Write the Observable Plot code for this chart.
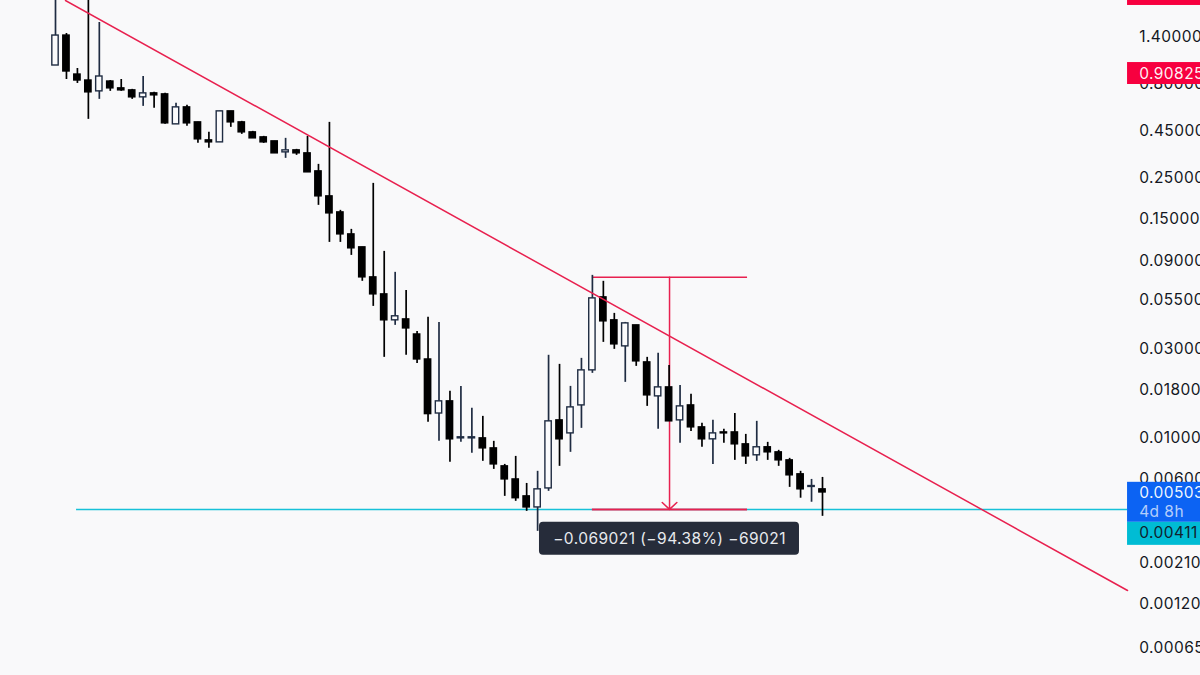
<!DOCTYPE html>
<html>
<head>
<meta charset="utf-8">
<script src="https://cdn.jsdelivr.net/npm/d3@7"></script>
<script src="https://cdn.jsdelivr.net/npm/@observablehq/plot@0.6"></script>
<style>
html,body{margin:0;padding:0;background:#f9f9fa;overflow:hidden}
svg{display:block}
svg text{letter-spacing:.45px}
</style>
</head>
<body>
<div id="chart"></div>
<script>
// Candles, one entry per period
const opens = [1.003,1.433,.901,.839,.7347,.829,.7626,.7439,.6821,.7167,.7079,.4879,.6024,.5001,.4,.3902,.5733,.5001,.4418,.4152,.3951,.3447,.3534,.3405,.2723,.1997,.1637,.1246,.1061,.0731,.0592,.0429,.0434,.036,.0264,.0135,.0157,.00992,.00992,.00992,.00876,.00701,.00596,.00483,.00421,.00533,.0124,.01055,.01493,.02306,.05704,.0429,.03105,.0403,.02546,.0167,.01867,.0124,.01493,.01137,.0098,.01068,.01068,.00921,.00804,.00888,.00834,.00755,.00635,.00543,.00527];
const highs = [2.31,1.468,.968,2.31,1.674,.839,.849,.7532,.88,.7257,.7167,.6331,.6176,.5001,.4418,.5733,.5733,.5064,.4473,.4204,.3951,.4101,.3578,.4204,.297,.5001,.1679,.1326,.1061,.2346,.1009,.0778,.0622,.0374,.0445,.0418,.01777,.0189,.01439,.01303,.00956,.00718,.00793,.00567,.00659,.0278,.02484,.0189,.02676,.07494,.0696,.04676,.0418,.0403,.0271,.02847,.02453,.01914,.01712,.01195,.0124,.01109,.0135,.01042,.01225,.00944,.00855,.00774,.00659,.00596,.00611];
const lows = [1.003,.849,.81,.5191,.6653,.7347,.7347,.6653,.6099,.595,.4879,.4879,.4759,.3854,.3622,.3902,.47,.431,.4101,.3854,.3405,.32,.3321,.269,.1786,.1128,.1128,.096,.0696,.051,.0271,.0403,.0278,.0251,.0121,.00956,.00737,.00944,.00824,.00746,.00675,.00483,.00454,.00401,.00313,.00514,.00701,.00834,.01123,.02222,.03263,.02992,.01987,.02423,.01475,.01109,.01225,.00933,.01081,.00888,.00718,.00933,.00755,.00718,.00746,.00755,.00701,.0054,.00472,.00449,.00377];
const closes = [1.433,.934,.839,.7257,.88,.7626,.7439,.6821,.7167,.6992,.494,.6024,.494,.4051,.3902,.5733,.5001,.4418,.4101,.3902,.3405,.3534,.3405,.269,.1997,.1617,.1246,.1048,.0731,.0592,.0429,.0451,.0388,.0264,.0134,.0157,.0098,.01005,.01005,.00876,.00718,.00596,.00472,.00421,.00527,.01225,.0098,.01457,.02306,.05633,.04235,.03183,.04131,.02578,.01691,.01867,.01225,.01475,.01137,.0098,.01055,.01055,.00921,.00793,.00888,.00834,.00755,.00627,.00527,.00549,.00507];

// Price axis
const tickValues = [1.4,.8,.45,.25,.15,.09,.055,.03,.018,.01,.006,.0021,.0012,.00065];

// Annotation levels
const trendIndex = [.9126,97.84];
const trendPrice = [2.175,.001453];
const measureHigh = .0731;
const measureLow = .00411;
const measureStart = 49;
const measureEnd = 63.16;
const measureMid = 56.04;
const panelStart = 97.84;
const panelEnd = 106;
const labelIndex = 98.9;
const tipText = "\u22120.069021 (\u221294.38%) \u221269021";

const fontFamily = "Inter, 'Noto Sans', sans-serif";
const bg = "#f9f9fa";
const red = "#e8214f";
const cyan = "#17c1d8";
const bull = "#1f2c42";

const candles = opens.map((o, i) => ({i, o, h: highs[i], l: lows[i], c: closes[i], up: closes[i] > o}));

const boxes = [
  {y1: 2.31, y2: 2.05, fill: "#f7003f"},
  {y1: 1.039, y2: .8, fill: "#f7003f"},
  {y1: .00575, y2: .0035, fill: "#0c63f3"},
  {y1: .0035, y2: .00263, fill: "#00bcd4"}
];
const boxLabels = [
  {y: .90825, text: "0.90825", fill: "#ffffff", opacity: .95},
  {y: .00503, text: "0.00503", fill: "#ffffff", opacity: .95},
  {y: .00396, text: "4d 8h", fill: "#ffffff", opacity: .7},
  {y: .00305, text: "0.00411", fill: "#11222e", opacity: 1}
];

const plot = Plot.plot({
  width: 1200,
  height: 675,
  marginTop: 0, marginBottom: 0, marginLeft: 0, marginRight: 62,
  style: {background: bg, fontFamily, fontSize: "15px"},
  x: {type: "linear", domain: [0, 70], range: [55, 822], axis: null},
  y: {type: "log", domain: [1.4, .8, .0021, .0012, .00065], range: [37, 84, 563, 604, 648], axis: null},
  marks: [
    Plot.text(tickValues, {
      x: labelIndex, y: d => d, text: d => d.toFixed(5), fill: "#131722", fontSize: 15.5, textAnchor: "start"
    }),
    Plot.ruleY([measureLow], {x1: 1.92, x2: panelStart, stroke: cyan, strokeWidth: 1.5}),
    Plot.ruleY([measureHigh], {x1: measureStart, x2: measureEnd, stroke: red, strokeWidth: 1.5}),
    Plot.ruleY([measureLow], {x1: measureStart, x2: measureEnd, stroke: red, strokeWidth: 2}),
    Plot.arrow([{x: measureMid, y1: measureHigh, y2: measureLow}], {
      x1: "x", x2: "x", y1: "y1", y2: "y2", stroke: red, strokeWidth: 1.5,
      headLength: 10, headAngle: 94, bend: 0, inset: 0
    }),
    Plot.ruleX(candles, {x: "i", y1: "h", y2: "l", stroke: d => d.up ? bull : "#000000", strokeWidth: 1.7}),
    Plot.rect(candles, {
      x1: d => d.i - .29, x2: d => d.i + .29, y1: "o", y2: "c",
      fill: d => d.up ? "#fbfbfc" : "#000000",
      stroke: d => d.up ? bull : "#000000", strokeWidth: 1.4
    }),
    Plot.line(trendIndex.map((x, k) => ({x, y: trendPrice[k]})), {x: "x", y: "y", stroke: red, strokeWidth: 1.5}),
    Plot.rect([{x1: 44.17, x2: 67.9, y1: .0035, y2: .002325}], {
      x1: "x1", x2: "x2", y1: "y1", y2: "y2", fill: "#262c3a", rx: 4
    }),
    Plot.text([tipText], {
      x: measureMid, y: .00286, text: d => d, fill: "#e8eaee", fontSize: 15.5, textAnchor: "middle"
    }),
    Plot.rect(boxes, {x1: panelStart, x2: panelEnd, y1: "y1", y2: "y2", fill: "fill"}),
    Plot.text(boxLabels, {
      x: labelIndex, y: "y", text: "text", fill: "fill", fillOpacity: "opacity",
      fontSize: 15.5, textAnchor: "start"
    })
  ]
});
document.getElementById("chart").appendChild(plot);
</script>
</body>
</html>
